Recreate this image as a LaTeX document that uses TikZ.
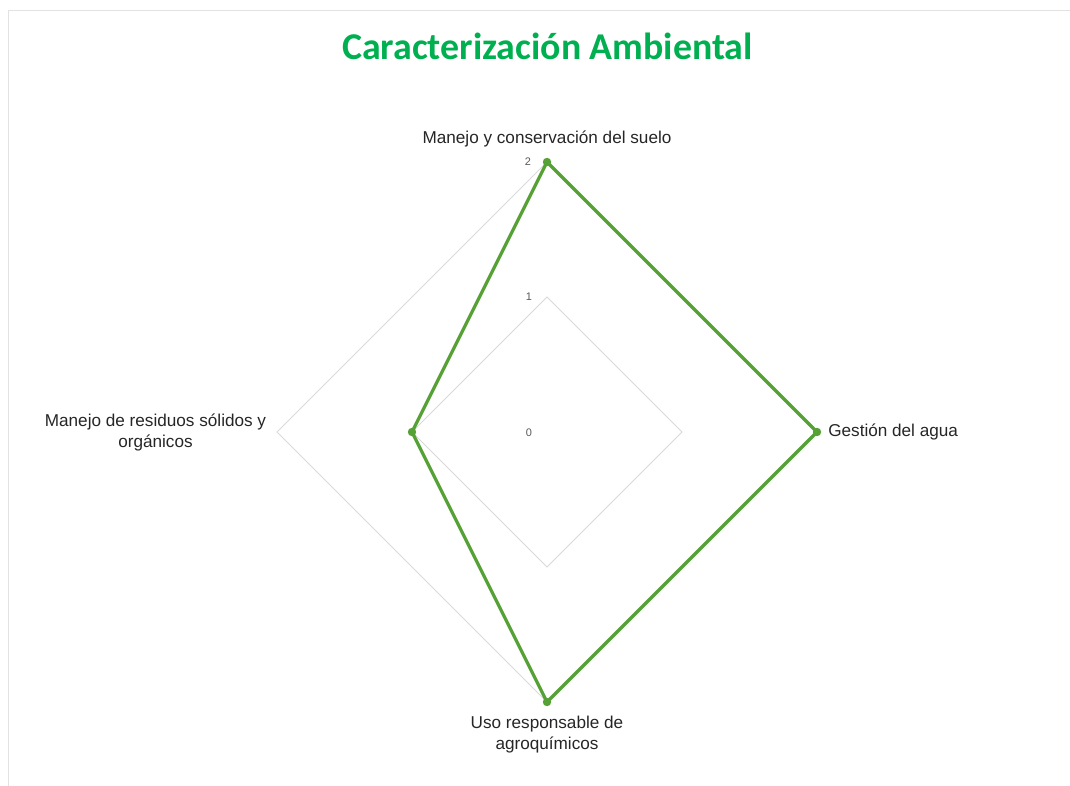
\documentclass[tikz,border=0pt]{standalone}
\usepackage{fontspec}
\setmainfont{Liberation Sans}
\newfontfamily\titlefont{Carlito}
\definecolor{titlegreen}{HTML}{00B050}
\definecolor{seriesgreen}{HTML}{55A135}
\definecolor{gridgray}{HTML}{D9D9D9}
\definecolor{framegray}{HTML}{E2E2E2}
\definecolor{tickgray}{HTML}{595959}
\tikzset{
  axislabel/.style={font=\fontsize{12.2}{15}\selectfont, text=black!85, inner sep=0pt, align=center},
  ticklabel/.style={font=\fontsize{7.8}{9}\selectfont, text=tickgray, inner sep=0pt},
  gridline/.style={draw=gridgray, line width=0.7pt},
  series/.style={draw=seriesgreen, line width=2.3pt, line join=round}
}

\begin{document}
\begin{tikzpicture}[x=0.025cm,y=-0.025cm]
		\useasboundingbox (0,0) rectangle (1070,786);
		%%%%% START %%%%%
		\draw[framegray, line width=1.3pt] (8.5,786) -- (8.5,10.5) -- (1070,10.5);
		
		\node[font=\titlefont\bfseries\fontsize{26.9}{30}\selectfont, text=titlegreen] (title) at (547.5,46) {Caracterización Ambiental};
		
		\coordinate (center) at (547,432);
		\draw[gridline] (547,297) -- (682,432) -- (547,567) -- (412,432) -- cycle;
		\draw[gridline] (547,162) -- (817,432) -- (547,702) -- (277,432) -- cycle;
		
		\node[ticklabel] (tick0) at (529,433) {0};
		\node[ticklabel] (tick1) at (529,297) {1};
		\node[ticklabel] (tick2) at (528,162) {2};
		
		\coordinate (suelo) at (547,162);
		\coordinate (agua) at (817,432);
		\coordinate (agroq) at (547,702);
		\coordinate (residuos) at (412,432);
		\draw[series] (suelo) -- (agua) -- (agroq) -- (residuos) -- cycle;
		\foreach \p in {suelo,agua,agroq,residuos}
			\fill[seriesgreen] (\p) circle (4.2);
		
		\node[axislabel] (lsuelo) at (547,139) {Manejo y conservación del suelo};
		\node[axislabel, anchor=west] (lagua) at (828,432) {Gestión del agua};
		\node[axislabel] (lagroq) at (547,734.5) {Uso responsable de\\agroquímicos};
		\node[axislabel] (lresiduos) at (155.5,432.5) {Manejo de residuos sólidos y\\orgánicos};
		%%%%% END %%%%%
\end{tikzpicture}
\end{document}
